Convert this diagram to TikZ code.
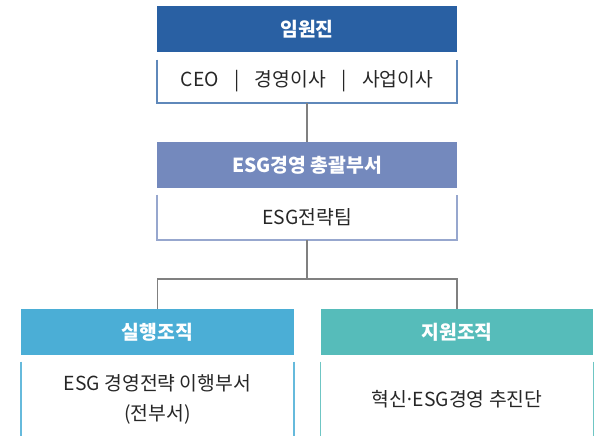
\documentclass[tikz,border=0pt]{standalone}
\usepackage{fontspec}
\setmainfont{Noto Sans CJK KR}
\usetikzlibrary{positioning}

\definecolor{execblue}{HTML}{2960A3}
\definecolor{esgviolet}{HTML}{7489BD}
\definecolor{runsky}{HTML}{4BAED6}
\definecolor{supteal}{HTML}{56BCBA}
\definecolor{linkgray}{HTML}{808080}

\tikzset{
  hdr/.style={inner sep=0pt, text=white, font=\fontsize{14.5}{16}\selectfont\bfseries,
    minimum height=34.5pt},
  bodybox/.style={inner sep=0pt, text=black!85, font=\fontsize{14.5}{22.5}\selectfont,
    align=center},
  link/.style={draw=linkgray, line width=0.8pt},
  rim/.style={line width=1.3pt}
}

\begin{document}
\begin{tikzpicture}[x=0.75pt, y=-0.75pt]
      \useasboundingbox (0,0) rectangle (597,436);

      % top level
      \node [hdr, fill=execblue, minimum width=225pt] (exec) at (307,29) {임원진};
      \node [bodybox, minimum width=225pt, minimum height=32.25pt] (execbody) at (307,81.5)
        {CEO\hspace{0.8em}|\hspace{0.8em}경영이사\hspace{0.8em}|\hspace{0.8em}사업이사};
      \draw [rim, execblue!75] (execbody.north west) -- (execbody.south west)
        -- (execbody.south east) -- (execbody.north east);

      % ESG management
      \node [hdr, fill=esgviolet, minimum width=225pt] (esg) at (307,165) {ESG경영 총괄부서};
      \node [bodybox, minimum width=225pt, minimum height=33.75pt] (esgbody) at (307,217.5)
        {ESG전략팀};
      \draw [rim, esgviolet!75] (esgbody.north west) -- (esgbody.south west)
        -- (esgbody.south east) -- (esgbody.north east);

      % execution and support
      \node [hdr, fill=runsky, minimum width=204.5pt] (run) at (157.5,332) {실행조직};
      \node [bodybox, minimum width=204.5pt, minimum height=55.5pt] (runbody) at (157.5,399)
        {ESG 경영전략 이행부서\\(전부서)};
      \draw [rim, runsky!85] (runbody.north west) -- (runbody.south west);
      \draw [rim, runsky!85] (runbody.north east) -- (runbody.south east);

      \node [hdr, fill=supteal, minimum width=204.5pt] (sup) at (457,332) {지원조직};
      \node [bodybox, minimum width=204.5pt, minimum height=55.5pt] (supbody) at (457,399)
        {혁신\makebox[0.3em]{·}ESG경영 추진단};
      \draw [rim, supteal!85] (supbody.north west) -- (supbody.south west);
      \draw [rim, supteal!85] (supbody.north east) -- (supbody.south east);

      % connectors
      \coordinate (split) at (307,279);
      \draw [link] (execbody.south) -- (esg.north);
      \draw [link] (esgbody.south) -- (split);
      \draw [link] (split) -| (run.north);
      \draw [link] (split) -| (sup.north);
\end{tikzpicture}
\end{document}
